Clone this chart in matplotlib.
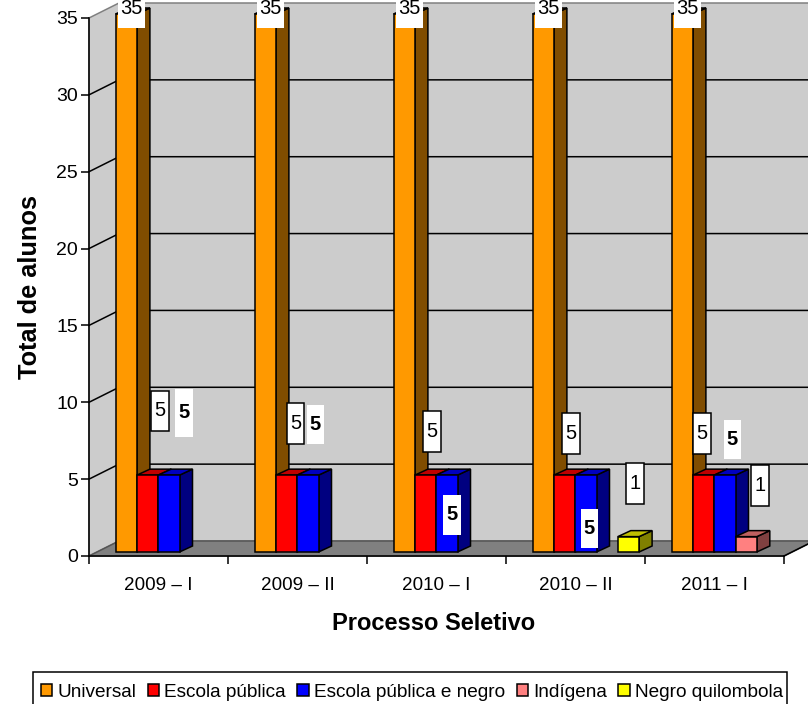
import matplotlib
matplotlib.use("Agg")
import matplotlib.pyplot as plt
from matplotlib.patches import Polygon, Rectangle, Patch

plt.rcParams['font.family'] = ['Liberation Sans', 'DejaVu Sans']

#Data
periods = ["2009 – I", "2009 – II", "2010 – I", "2010 – II", "2011 – I"]
series_names = ["Universal", "Escola pública", "Escola pública e negro", "Indígena", "Negro quilombola"]
universal = [35, 35, 35, 35, 35]
escola_publica = [5, 5, 5, 5, 5]
escola_negro = [5, 5, 5, 5, 5]
indigena = [0, 0, 0, 0, 1]
quilombola = [0, 0, 0, 1, 0]
y_ticks = [0, 5, 10, 15, 20, 25, 30, 35]

series = [universal, escola_publica, escola_negro, indigena, quilombola]
front = ["#FF9900", "#FF0000", "#0000FF", "#FF8080", "#FFFF00"]
top = ["#BF7300", "#BF0000", "#0000BF", "#BF6060", "#BFBF00"]
side = ["#804D00", "#800000", "#000080", "#804040", "#808000"]

W, H = 808, 704
fig = plt.figure(figsize=(W / 100, H / 100), dpi=100)
#axes box = front plane of the chart, in pixels
x0, x1, y0, y1 = 89, 784, 556, 18
ax = fig.add_axes([x0 / W, 1 - y0 / H, (x1 - x0) / W, (y0 - y1) / H])
ax.set_xlim(0, 5)
ax.set_ylim(0, 35)
ax.patch.set_visible(False)
px_x = (x1 - x0) / 5
px_y = (y0 - y1) / 35


def dx(p):
    return p / px_x


def dy(p):
    return p / px_y


def poly(pts, fc, ec="black", lw=1.1, z=2):
    ax.add_patch(Polygon(pts, closed=True, fc=fc, ec=ec, lw=lw, zorder=z, clip_on=False, joinstyle="miter"))


#Walls and floor
wall_x, wall_y = dx(30), dy(15)
right = 5 + wall_x
poly([(0, 0), (wall_x, wall_y), (wall_x, 35 + wall_y), (0, 35)], "#CCCCCC", ec="#808080", z=1)
poly([(wall_x, wall_y), (right, wall_y), (right, 35 + wall_y), (wall_x, 35 + wall_y)], "#CCCCCC", ec="#808080", z=1)
poly([(0, 0), (5, 0), (right, wall_y), (wall_x, wall_y)], "#808080", ec="#555555", z=1)
ax.plot([5, right], [0, wall_y], color="black", lw=1.1, zorder=1.5, clip_on=False)
for t in y_ticks[1:-1]:
    ax.plot([0, wall_x, right], [t, t + wall_y, t + wall_y], color="black", lw=1.1, zorder=1.5, clip_on=False)

#Bars
bar_off, bar_w = dx(26.6), dx(21.3)
base = dy(4)
depth_x, depth_y = dx(13), dy(6)
for g in range(len(periods)):
    for s, vals in enumerate(series):
        v = vals[g]
        if v == 0:
            continue
        l = g + bar_off + s * bar_w
        r = l + bar_w
        b = base
        t = base + v
        poly([(r, b), (r + depth_x, b + depth_y), (r + depth_x, t + depth_y), (r, t)], side[s])
        poly([(l, t), (r, t), (r + depth_x, t + depth_y), (l + depth_x, t + depth_y)], top[s])
        poly([(l, b), (r, b), (r, t), (l, t)], front[s])


#Data labels: (series, group, left, right, top, bottom in pixels, boxed, bold)
label_boxes = [
    (0, 0, 118, 145, -2, 28, False, False),
    (0, 1, 257, 284, -2, 28, False, False),
    (0, 2, 396, 423, -2, 28, False, False),
    (0, 3, 535, 562, -2, 28, False, False),
    (0, 4, 674, 701, -2, 28, False, False),
    (1, 0, 151, 169, 391, 431, True, False),
    (1, 1, 287, 304, 403, 444, True, False),
    (1, 2, 423, 441, 411, 452, True, False),
    (1, 3, 562, 580, 413, 454, True, False),
    (1, 4, 693, 711, 413, 454, True, False),
    (2, 0, 175, 193, 389, 437, False, True),
    (2, 1, 307, 324, 405, 444, False, True),
    (2, 2, 443, 461, 495, 535, False, True),
    (2, 3, 581, 598, 509, 548, False, True),
    (2, 4, 724, 741, 420, 459, False, True),
    (4, 3, 626, 644, 463, 504, True, False),
    (3, 4, 751, 769, 465, 506, True, False),
]
for s, g, l, r, t, b, boxed, bold in label_boxes:
    xl, xr = (l - x0) / px_x, (r - x0) / px_x
    yb, yt = (y0 - b) / px_y, (y0 - t) / px_y
    ax.add_patch(Rectangle((xl, yb), xr - xl, yt - yb, fc="white", ec="black" if boxed else "none",
                           lw=1.1, zorder=3, clip_on=False))
    ax.text((xl + xr) / 2, (yb + yt) / 2 if t > 0 else (y0 - 8) / px_y, str(series[s][g]), ha="center", va="center",
            fontsize=14.5, fontweight="bold" if bold else "normal", zorder=4, clip_on=False)

#Axes
for sp in ["top", "right"]:
    ax.spines[sp].set_visible(False)
for sp in ["left", "bottom"]:
    ax.spines[sp].set_linewidth(1.1)
    ax.spines[sp].set_zorder(2.5)
ax.set_yticks(y_ticks)
ax.set_xticks(range(6))
ax.set_xticklabels([])
ax.set_xticks([i + 0.5 for i in range(5)], minor=True)
ax.set_xticklabels(periods, minor=True)
ax.tick_params(axis="x", which="minor", length=0, pad=15, labelsize=13.6)
ax.tick_params(axis="x", which="major", length=6, width=1.1)
ax.tick_params(axis="y", length=6, width=1.1, labelsize=14, pad=2)
fig.text(434 / W, 1 - 623 / H, "Processo Seletivo", ha="center", va="center", fontsize=17, fontweight="bold")
fig.text(30 / W, 1 - 287 / H, "Total de alunos", ha="center", va="center", rotation=90, fontsize=18.3, fontweight="bold")

#Legend, its frame runs off the bottom of the picture
fig.add_artist(Rectangle((33 / W, -8 / H), 754 / W, 40 / H, transform=fig.transFigure, fc="white", ec="black", lw=1.1))
handles = [Patch(fc=c, ec="black", lw=1.1) for c in front]
fig.legend(handles, series_names, ncol=5, loc="lower left", bbox_to_anchor=(33 / W, -4.5 / H),
           fontsize=13.7, frameon=False,
           handlelength=0.6, handleheight=0.6, handletextpad=0.27, columnspacing=0.6, borderpad=0.42,
           borderaxespad=0)

fig.savefig("out.png", dpi=100)
